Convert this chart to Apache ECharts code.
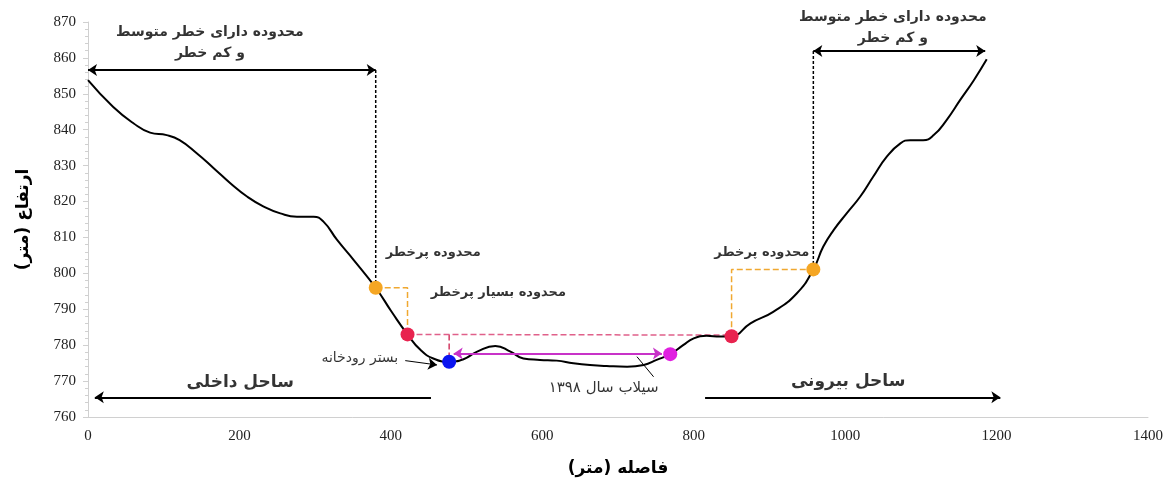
<!DOCTYPE html>
<html>
<head>
<meta charset="utf-8">
<script src="https://cdn.jsdelivr.net/npm/echarts@6/dist/echarts.min.js"></script>
<style>html,body{margin:0;padding:0;background:#fff}#c{width:1176px;height:483px}</style>
</head>
<body>
<div id="c"></div>
<script>
// Elevation profile (distance in m, elevation in m)
const distance = [0,33,60,82,104,121,144,166,188,210,232,254,276,298,311,329,351,380,401,422,439,456,477,496,514,538,558,575,597,619,641,663,685,712,734,751,769,786,800,817,835,850,875,905,936,958,971,985,1002,1020,1037,1055,1073,1086,1103,1117,1134,1152,1170,1187];
const elevation = [853.8,846.4,841.8,839.2,838.5,837.1,833.4,829.3,825.1,821.4,818.6,816.7,815.8,815.8,814.4,809.3,803.7,796,789.3,783,778.7,776.3,775.4,776.1,778.2,779.8,778.2,776.3,775.9,775.7,775.0,774.5,774.2,774.0,774.5,775.9,777.5,780.0,781.9,782.6,782.4,782.5,786.1,789.3,794.4,801.1,807.4,812.1,816.7,821.4,826.9,832.5,836.2,837.1,837.1,838.5,842.7,848.3,853.8,859.6];

const xTicks = [0,200,400,600,800,1000,1200,1400];
const yTicks = [760,770,780,790,800,810,820,830,840,850,860,870];

// Key points
const orangePts = [[380,796],[958,801.1]];
const redPts = [[422,783],[850,782.5]];
const bluePts = [[477,775.4]];
const magentaPts = [[769,777.5]];

// Guide lines
const orangeLeft = [[380,796],[422,796],[422,783]];
const orangeRight = [[850,782.5],[850,801.1],[958,801.1]];
const redVertical = [[477,783],[477,775.4]];
const redHorizontal = [[422,783],[850,782.8]];
const blackLeftDrop = [[380,856.6],[380,796]];
const blackRightDrop = [[958,861.9],[958,801.1]];

// Arrows
const arrows = [
  {from:[0,856.6], to:[380,856.6], sym:['arrow','arrow'], color:'#000', w:2},
  {from:[958,861.9], to:[1185,861.9], sym:['arrow','arrow'], color:'#000', w:2},
  {from:[453,765.5], to:[9,765.5], sym:['none','arrow'], color:'#000', w:2},
  {from:[815,765.5], to:[1205,765.5], sym:['none','arrow'], color:'#000', w:2},
  {from:[483,777.7], to:[758,777.7], sym:['arrow','arrow'], color:'#c832c8', w:2},
  {from:[419,775.7], to:[461,774.5], sym:['none','arrow'], color:'#000', w:1},
  {from:[747,771.2], to:[725,776.8], sym:['none','none'], color:'#000', w:1}
];

// Text annotations
const texts = [
  {t:'محدوده دارای خطر متوسط\nو کم خطر', p:[161,864.3], size:14, bold:true},
  {t:'محدوده دارای خطر متوسط\nو کم خطر', p:[1063,868.5], size:14, bold:true},
  {t:'محدوده پرخطر', p:[456,805.8], size:13, bold:true},
  {t:'محدوده پرخطر', p:[890,805.8], size:13, bold:true},
  {t:'محدوده بسیار پرخطر', p:[542,794.6], size:13, bold:true},
  {t:'بستر رودخانه', p:[359,776.3], size:14, bold:false},
  {t:'سیلاب سال ۱۳۹۸', p:[681,768], size:15, bold:false},
  {t:'ساحل داخلی', p:[201,769.5], size:17, bold:true},
  {t:'ساحل بیرونی', p:[1004,769.8], size:17, bold:true}
];

const profile = distance.map((d,i)=>[d,elevation[i]]);
const AR = 'DejaVu Sans';

function dashed(data, color, type){
  return {type:'line', data:data, symbol:'none', silent:true, animation:false, z:1,
    lineStyle:{color:color, width:1.5, type:type}};
}
function dots(data, color){
  return {type:'scatter', data:data, symbolSize:14, silent:true, animation:false, z:5,
    itemStyle:{color:color, opacity:1}};
}

const chart = echarts.init(document.getElementById('c'));
chart.setOption({
  animation:false,
  backgroundColor:'#fff',
  grid:{left:88, right:28, top:22, bottom:66},
  xAxis:{type:'value', min:0, max:1400, interval:200,
    name:'فاصله (متر)', nameLocation:'middle', nameGap:43,
    nameTextStyle:{fontFamily:AR, fontWeight:'bold', fontSize:17, color:'#000'},
    axisLine:{lineStyle:{color:'#d0d0d0'}}, axisTick:{show:false}, splitLine:{show:false},
    axisLabel:{fontFamily:'Liberation Serif', fontSize:15, color:'#222', margin:12,
      formatter:v=>xTicks.includes(v)?String(v):''}},
  yAxis:{type:'value', min:760, max:870, interval:10,
    name:'ارتفاع (متر)', nameLocation:'middle', nameGap:56, nameRotate:90,
    nameTextStyle:{fontFamily:AR, fontWeight:'bold', fontSize:17, color:'#000'},
    axisLine:{show:true, lineStyle:{color:'#d0d0d0'}},
    axisTick:{show:true, length:5, lineStyle:{color:'#d0d0d0'}},
    minorTick:{show:true, splitNumber:5, length:3, lineStyle:{color:'#d0d0d0'}},
    splitLine:{show:false},
    axisLabel:{fontFamily:'Liberation Serif', fontSize:15, color:'#222', margin:12,
      formatter:v=>yTicks.includes(v)?String(v):''}},
  series:[
    dashed(orangeLeft,'#f0a830','dashed'),
    dashed(orangeRight,'#f0a830','dashed'),
    dashed(redVertical,'#d23a62','dashed'),
    dashed(redHorizontal,'#e0608a','dashed'),
    dashed(blackLeftDrop,'#000',[3,2]),
    dashed(blackRightDrop,'#000',[3,2]),
    {type:'line', data:profile, smooth:0.5, symbol:'none', silent:true, z:3,
      lineStyle:{color:'#000', width:2}},
    dots(orangePts,'#f5a623'),
    dots(redPts,'#e8234f'),
    dots(bluePts,'#0a14f0'),
    Object.assign(dots(magentaPts,'#e020e0'), {
      markLine:{silent:true, animation:false, label:{show:false},
        data:arrows.map(a=>[
          {coord:a.from, symbol:a.sym[0], lineStyle:{color:a.color, width:a.w, type:'solid'}},
          {coord:a.to, symbol:a.sym[1]}
        ]),
        symbolSize:9, lineStyle:{type:'solid'}}
    }),
    {type:'scatter', clip:false, silent:true, animation:false, symbolSize:0, z:6,
      data:texts.map(t=>({value:t.p, name:t.t,
        label:{show:true, position:'inside', formatter:t.t, fontFamily:AR,
          fontSize:t.size, fontWeight:t.bold?'bold':'normal', color:'#000',
          lineHeight:t.size+7, align:'center', verticalAlign:'middle'}}))}
  ]
});
</script>
</body>
</html>
